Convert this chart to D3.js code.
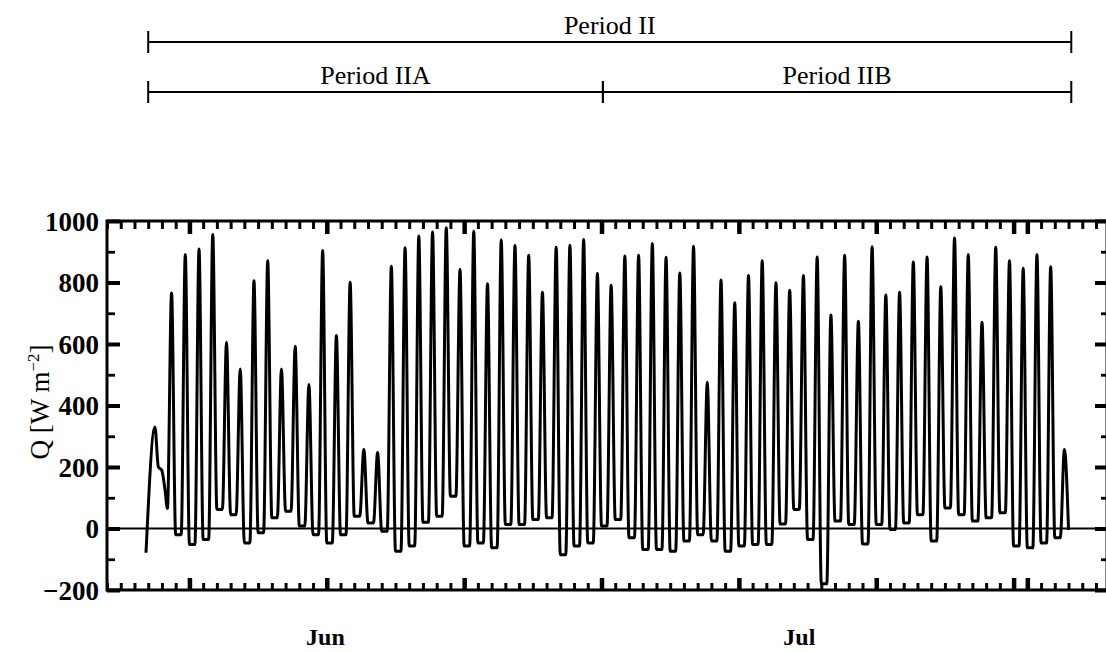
<!DOCTYPE html>
<html><head><meta charset="utf-8">
<script src="https://cdn.jsdelivr.net/npm/d3@7"></script>
<style>body{margin:0;background:#fff}svg{display:block}</style>
</head><body>
<svg id="chart" width="1106" height="652"></svg>
<script>
// ---- data (time in days from axis start, values in W m^-2) ----
const leadInT = [2.84, 3.49, 3.74, 3.98, 4.22, 4.4];
const leadInQ = [-79, 330, 200, 190, 127, 65];
const firstDay = 4;
const peaks = [766, 891, 909, 956, 606, 519, 806, 871, 519, 593, 468, 904, 628, 801, 257, 247,
  853, 913, 951, 964, 978, 842, 967, 796, 938, 920, 889, 768, 915, 921, 940, 829, 791,
  886, 889, 927, 882, 831, 918, 476, 808, 734, 823, 871, 799, 775, 823, 883, 694, 889,
  674, 916, 759, 768, 867, 883, 786, 945, 891, 671, 915, 871, 846, 891, 851, 257];
const nightLows = [-20, -52, -36, 62, 45, -47, -14, 35, 56, 8, -20, -47, -20, 40, 18, -9,
  -74, -57, 20, 40, 105, -57, -47, -63, 13, 13, 29, 35, -85, -57, -47, 8, 29,
  -30, -68, -68, -74, -41, -20, -41, -74, -57, -52, -52, 15, 62, -36, -180, 24, 13,
  -50, 13, -3, 18, 45, -41, 67, 45, 24, 35, 51, -57, -63, -47, -30];
const tailT = [70.0];
const tailQ = [-5];

const yTicksMajor = [-200, 0, 200, 400, 600, 800, 1000];
const yTicksMinor = [-100, 100, 300, 500, 700, 900];
const xTicksMajor = [6, 16, 26, 36, 46, 56, 66, 67];
const monthLabels = ["Jun", "Jul"];
const monthPos = [15.9, 50.4];
const periodLabels = ["Period II", "Period IIA", "Period IIB"];
const periodStart = [3.0, 3.0, 36.1];
const periodEnd = [70.2, 36.1, 70.2];
const periodRow = [0, 1, 1];

// ---- layout ----
const L = 107, R = 1107, T = 221, B = 590;
const svg = d3.select("#chart");
const x = d3.scaleLinear().domain([0, 72.8]).range([L, R]);
const y = d3.scaleLinear().domain([-200, 1000]).range([B, T]);
const serif = "'Liberation Serif','Times New Roman',serif";
const W = 0.3; // half-width of the daytime spike, in days

// build series points
const pts = leadInT.map((t, i) => [t, leadInQ[i]]);
peaks.forEach((p, i) => {
  const d = firstDay + i;
  pts.push([d + 0.7, p]);
  if (i < nightLows.length) {
    pts.push([d + 0.7 + W, nightLows[i]]);
    pts.push([d + 1.7 - W, nightLows[i]]);
  }
});
tailT.forEach((t, i) => pts.push([t, tailQ[i]]));

// ---- axes ----
function styleAxis(g, w) {
  g.select(".domain").remove();
  g.selectAll(".tick line").attr("stroke", "#000").attr("stroke-width", w);
}
const allDays = d3.range(0, 73);
svg.append("g").attr("transform", `translate(0,${B})`)
  .call(d3.axisBottom(x).tickValues(allDays).tickSize(-7).tickFormat(""))
  .call(g => styleAxis(g, 3));
svg.append("g").attr("transform", `translate(0,${B})`)
  .call(d3.axisBottom(x).tickValues(xTicksMajor).tickSize(-12).tickFormat(""))
  .call(g => styleAxis(g, 4.5));
svg.append("g").attr("transform", `translate(0,${T})`)
  .call(d3.axisTop(x).tickValues(allDays).tickSize(-8).tickFormat(""))
  .call(g => styleAxis(g, 3));
svg.append("g").attr("transform", `translate(0,${T})`)
  .call(d3.axisTop(x).tickValues(xTicksMajor).tickSize(-13).tickFormat(""))
  .call(g => styleAxis(g, 4.5));
svg.append("g").attr("transform", `translate(${L},0)`)
  .call(d3.axisLeft(y).tickValues(yTicksMinor).tickSize(-8).tickFormat(""))
  .call(g => styleAxis(g, 2.8));
const yl = svg.append("g").attr("transform", `translate(${L},0)`)
  .call(d3.axisLeft(y).tickValues(yTicksMajor).tickSize(-13).tickPadding(8).tickFormat(d3.format("d")))
  .call(g => styleAxis(g, 4));
yl.selectAll(".tick text").attr("font-family", serif).attr("font-weight", "bold")
  .attr("font-size", 27).attr("fill", "#000").attr("dy", "0.34em");
svg.append("g").attr("transform", `translate(${R},0)`)
  .call(d3.axisRight(y).tickValues(yTicksMinor).tickSize(-6).tickFormat(""))
  .call(g => styleAxis(g, 2.8));
svg.append("g").attr("transform", `translate(${R},0)`)
  .call(d3.axisRight(y).tickValues(yTicksMajor).tickSize(-12).tickFormat(""))
  .call(g => styleAxis(g, 4));

// frame
svg.append("rect").attr("x", L).attr("y", T).attr("width", R - L).attr("height", B - T)
  .attr("fill", "none").attr("stroke", "#000").attr("stroke-width", 3);
// zero line
svg.append("line").attr("x1", L).attr("x2", R).attr("y1", y(0)).attr("y2", y(0))
  .attr("stroke", "#000").attr("stroke-width", 2);

// data line
const line = d3.line().x(d => x(d[0])).y(d => y(d[1])).curve(d3.curveMonotoneX);
svg.append("path").datum(pts).attr("d", line).attr("fill", "none")
  .attr("stroke", "#000").attr("stroke-width", 3).attr("stroke-linejoin", "round");

// y label
const lab = svg.append("text").attr("transform", "translate(49,402) rotate(-90)")
  .attr("text-anchor", "middle").attr("font-family", serif).attr("font-size", 27).attr("fill", "#000");
lab.append("tspan").text("Q [W m");
lab.append("tspan").attr("dy", -10).attr("font-size", 17).text("−2");
lab.append("tspan").attr("dy", 10).text("]");

// month labels
svg.selectAll(".month").data(monthLabels).join("text")
  .attr("x", (d, i) => x(monthPos[i])).attr("y", 645).attr("text-anchor", "middle")
  .attr("font-family", serif).attr("font-weight", "bold").attr("font-size", 24).text(d => d);

// period annotations
const rowY = [42, 92];
periodLabels.forEach((lbl, i) => {
  const yy = rowY[periodRow[i]];
  const x0 = x(periodStart[i]), x1 = x(periodEnd[i]);
  svg.append("line").attr("x1", x0).attr("x2", x1).attr("y1", yy).attr("y2", yy)
    .attr("stroke", "#000").attr("stroke-width", 2);
  [x0, x1].forEach(xx => svg.append("line").attr("x1", xx).attr("x2", xx)
    .attr("y1", yy - 11).attr("y2", yy + 11).attr("stroke", "#000").attr("stroke-width", 2));
  svg.append("text").attr("x", (x0 + x1) / 2).attr("y", yy - 8).attr("text-anchor", "middle")
    .attr("font-family", serif).attr("font-size", 26).attr("fill", "#000").text(lbl);
});
</script>
</body></html>
